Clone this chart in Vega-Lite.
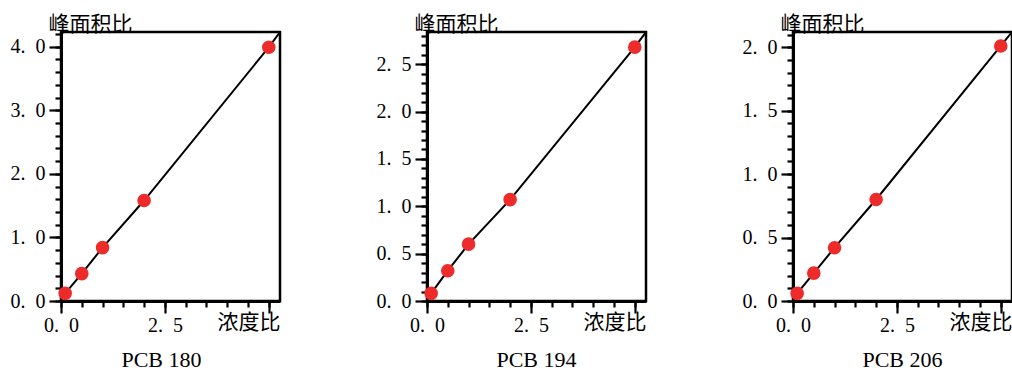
{
  "$schema": "https://vega.github.io/schema/vega-lite/v6.json",
  "padding": {"left": 8, "top": 11, "right": 0, "bottom": 0},
  "background": "white",
  "bounds": "flush",
  "spacing": 147,
  "datasets": {
    "p180": [{"x": 0.1, "y": 0.12}, {"x": 0.5, "y": 0.43}, {"x": 1, "y": 0.84}, {"x": 2, "y": 1.58}, {"x": 5, "y": 3.99}],
    "l180": [{"x": 0.1, "y": 0.12}, {"x": 0.5, "y": 0.43}, {"x": 1, "y": 0.84}, {"x": 2, "y": 1.58}, {"x": 5, "y": 3.99}, {"x": 5.27, "y": 4.23}],
    "p194": [{"x": 0.1, "y": 0.08}, {"x": 0.5, "y": 0.32}, {"x": 1, "y": 0.6}, {"x": 2, "y": 1.07}, {"x": 5, "y": 2.68}],
    "l194": [{"x": 0.1, "y": 0.08}, {"x": 0.5, "y": 0.32}, {"x": 1, "y": 0.6}, {"x": 2, "y": 1.07}, {"x": 5, "y": 2.68}, {"x": 5.27, "y": 2.84}],
    "p206": [{"x": 0.1, "y": 0.06}, {"x": 0.5, "y": 0.22}, {"x": 1, "y": 0.42}, {"x": 2, "y": 0.8}, {"x": 5, "y": 2.01}],
    "l206": [{"x": 0.1, "y": 0.06}, {"x": 0.5, "y": 0.22}, {"x": 1, "y": 0.42}, {"x": 2, "y": 0.8}, {"x": 5, "y": 2.01}, {"x": 5.27, "y": 2.12}]
  },
  "hconcat": [
    {
      "width": 219, "height": 269,
      "title": {"text": "PCB 180", "orient": "bottom", "frame": "group", "anchor": "middle", "dx": -9, "offset": 15, "baseline": "top"},
      "resolve": {"axis": {"x": "independent", "y": "independent"}},
      "layer": [
        {
          "data": {"name": "l180"},
          "mark": {"type": "line", "color": "black", "strokeWidth": 2, "clip": true},
          "encoding": {
            "x": {"field": "x", "type": "quantitative", "scale": {"domain": [0, 5.27], "nice": false, "zero": false},
              "axis": {"orient": "bottom", "values": [0, 2.5, 5], "tickSize": 12, "labelPadding": 2, "labelFlush": false, "labelOverlap": false,
                "labelExpr": "datum.value == 5 ? '' : replace(format(datum.value, '.1f'), '.', '.\u2002')",
                "title": "浓度比", "titleX": 219, "titleY": 21, "titleAlign": "right", "titleBaseline": "middle"}},
            "y": {"field": "y", "type": "quantitative", "scale": {"domain": [0, 4.23], "nice": false, "zero": false},
              "axis": {"orient": "left", "values": [0, 1, 2, 3, 4], "tickSize": 12, "labelPadding": 4, "labelFlush": false, "labelOverlap": false,
                "labelExpr": "replace(format(datum.value, '.1f'), '.', '.\u2002')",
                "title": "峰面积比", "titleAngle": 0, "titleX": -13, "titleY": -2, "titleAlign": "left", "titleBaseline": "alphabetic"}}
          }
        },
        {
          "data": {"name": "p180"},
          "mark": {"type": "point", "filled": true, "shape": "circle", "size": 185, "color": "#ED2B2B", "opacity": 1},
          "encoding": {
            "x": {"field": "x", "type": "quantitative", "scale": {"domain": [0, 5.27], "nice": false, "zero": false},
              "axis": {"orient": "bottom", "values": [0, 0.5, 1, 1.5, 2, 2.5, 3, 3.5, 4, 4.5, 5], "tickSize": 6, "labels": false, "domain": false, "title": null}},
            "y": {"field": "y", "type": "quantitative", "scale": {"domain": [0, 4.23], "nice": false, "zero": false},
              "axis": {"orient": "left", "values": [0, 0.2, 0.4, 0.6, 0.8, 1, 1.2, 1.4, 1.6, 1.8, 2, 2.2, 2.4, 2.6, 2.8, 3, 3.2, 3.4, 3.6, 3.8, 4, 4.2], "tickSize": 6, "labels": false, "domain": false, "title": null}}
          }
        }
      ]
    },
    {
      "width": 219, "height": 269,
      "title": {"text": "PCB 194", "orient": "bottom", "frame": "group", "anchor": "middle", "offset": 15, "baseline": "top"},
      "resolve": {"axis": {"x": "independent", "y": "independent"}},
      "layer": [
        {
          "data": {"name": "l194"},
          "mark": {"type": "line", "color": "black", "strokeWidth": 2, "clip": true},
          "encoding": {
            "x": {"field": "x", "type": "quantitative", "scale": {"domain": [0, 5.27], "nice": false, "zero": false},
              "axis": {"orient": "bottom", "values": [0, 2.5, 5], "tickSize": 12, "labelPadding": 2, "labelFlush": false, "labelOverlap": false,
                "labelExpr": "datum.value == 5 ? '' : replace(format(datum.value, '.1f'), '.', '.\u2002')",
                "title": "浓度比", "titleX": 219, "titleY": 21, "titleAlign": "right", "titleBaseline": "middle"}},
            "y": {"field": "y", "type": "quantitative", "scale": {"domain": [0, 2.84], "nice": false, "zero": false},
              "axis": {"orient": "left", "values": [0, 0.5, 1, 1.5, 2, 2.5], "tickSize": 12, "labelPadding": 4, "labelFlush": false, "labelOverlap": false,
                "labelExpr": "replace(format(datum.value, '.1f'), '.', '.\u2002')",
                "title": "峰面积比", "titleAngle": 0, "titleX": -13, "titleY": -2, "titleAlign": "left", "titleBaseline": "alphabetic"}}
          }
        },
        {
          "data": {"name": "p194"},
          "mark": {"type": "point", "filled": true, "shape": "circle", "size": 185, "color": "#ED2B2B", "opacity": 1},
          "encoding": {
            "x": {"field": "x", "type": "quantitative", "scale": {"domain": [0, 5.27], "nice": false, "zero": false},
              "axis": {"orient": "bottom", "values": [0, 0.5, 1, 1.5, 2, 2.5, 3, 3.5, 4, 4.5, 5], "tickSize": 6, "labels": false, "domain": false, "title": null}},
            "y": {"field": "y", "type": "quantitative", "scale": {"domain": [0, 2.84], "nice": false, "zero": false},
              "axis": {"orient": "left", "values": [0, 0.1, 0.2, 0.3, 0.4, 0.5, 0.6, 0.7, 0.8, 0.9, 1, 1.1, 1.2, 1.3, 1.4, 1.5, 1.6, 1.7, 1.8, 1.9, 2, 2.1, 2.2, 2.3, 2.4, 2.5, 2.6, 2.7, 2.8], "tickSize": 6, "labels": false, "domain": false, "title": null}}
          }
        }
      ]
    },
    {
      "width": 219, "height": 269,
      "title": {"text": "PCB 206", "orient": "bottom", "frame": "group", "anchor": "middle", "offset": 15, "baseline": "top"},
      "resolve": {"axis": {"x": "independent", "y": "independent"}},
      "layer": [
        {
          "data": {"name": "l206"},
          "mark": {"type": "line", "color": "black", "strokeWidth": 2, "clip": true},
          "encoding": {
            "x": {"field": "x", "type": "quantitative", "scale": {"domain": [0, 5.27], "nice": false, "zero": false},
              "axis": {"orient": "bottom", "values": [0, 2.5, 5], "tickSize": 12, "labelPadding": 2, "labelFlush": false, "labelOverlap": false,
                "labelExpr": "datum.value == 5 ? '' : replace(format(datum.value, '.1f'), '.', '.\u2002')",
                "title": "浓度比", "titleX": 219, "titleY": 21, "titleAlign": "right", "titleBaseline": "middle"}},
            "y": {"field": "y", "type": "quantitative", "scale": {"domain": [0, 2.12], "nice": false, "zero": false},
              "axis": {"orient": "left", "values": [0, 0.5, 1, 1.5, 2], "tickSize": 12, "labelPadding": 4, "labelFlush": false, "labelOverlap": false,
                "labelExpr": "replace(format(datum.value, '.1f'), '.', '.\u2002')",
                "title": "峰面积比", "titleAngle": 0, "titleX": -13, "titleY": -2, "titleAlign": "left", "titleBaseline": "alphabetic"}}
          }
        },
        {
          "data": {"name": "p206"},
          "mark": {"type": "point", "filled": true, "shape": "circle", "size": 185, "color": "#ED2B2B", "opacity": 1},
          "encoding": {
            "x": {"field": "x", "type": "quantitative", "scale": {"domain": [0, 5.27], "nice": false, "zero": false},
              "axis": {"orient": "bottom", "values": [0, 0.5, 1, 1.5, 2, 2.5, 3, 3.5, 4, 4.5, 5], "tickSize": 6, "labels": false, "domain": false, "title": null}},
            "y": {"field": "y", "type": "quantitative", "scale": {"domain": [0, 2.12], "nice": false, "zero": false},
              "axis": {"orient": "left", "values": [0, 0.1, 0.2, 0.3, 0.4, 0.5, 0.6, 0.7, 0.8, 0.9, 1, 1.1, 1.2, 1.3, 1.4, 1.5, 1.6, 1.7, 1.8, 1.9, 2, 2.1], "tickSize": 6, "labels": false, "domain": false, "title": null}}
          }
        }
      ]
    }
  ],
  "config": {
    "view": {"stroke": "black", "strokeWidth": 2.5},
    "axis": {"grid": false, "domainColor": "black", "domainWidth": 3, "tickColor": "black", "tickWidth": 2.2,
      "labelFont": "Liberation Serif", "labelFontSize": 20, "labelColor": "black",
      "titleFont": "Noto Sans CJK SC", "titleFontSize": 21, "titleFontWeight": "normal", "titleColor": "black"},
    "title": {"font": "Liberation Serif", "fontSize": 22, "fontWeight": "normal", "color": "black"}
  }
}
